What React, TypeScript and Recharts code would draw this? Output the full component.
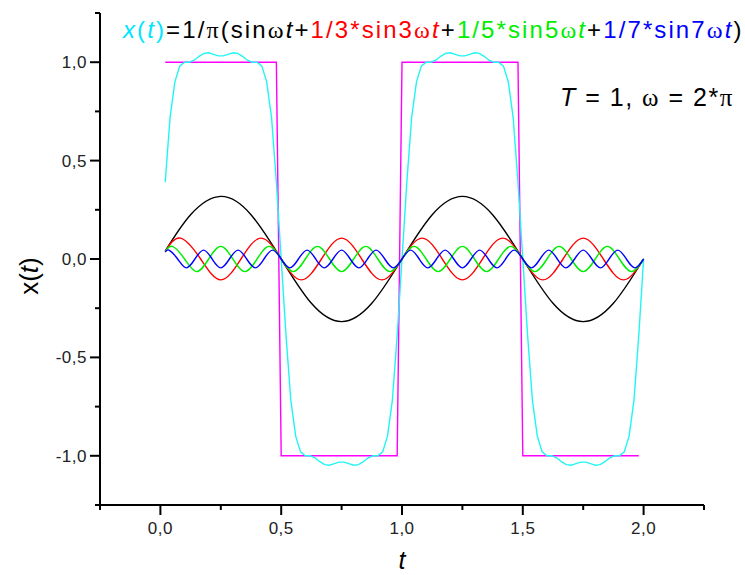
import React from "react";
import { LineChart, Line, XAxis, YAxis } from "recharts";

// fundamental 1/π·sinωt
const blackT = [0.02, 0.125, 0.25, 0.375, 0.5, 0.625, 0.75, 0.875, 1.0, 1.125, 1.25, 1.375, 1.5, 1.625, 1.75, 1.875, 2.0];
const blackV = [0.04, 0.225, 0.318, 0.225, 0, -0.225, -0.318, -0.225, 0, 0.225, 0.318, 0.225, 0, -0.225, -0.318, -0.225, 0];

// 3rd harmonic
const redT = [
  0.02, 0.0833, 0.1667, 0.25, 0.3333, 0.4167, 0.5, 0.5833, 0.6667, 0.75, 0.8333, 0.9167, 1.0,
  1.0833, 1.1667, 1.25, 1.3333, 1.4167, 1.5, 1.5833, 1.6667, 1.75, 1.8333, 1.9167, 2.0,
];
const redV = [
  0.039, 0.106, 0, -0.106, 0, 0.106, 0, -0.106, 0, 0.106, 0, -0.106, 0,
  0.106, 0, -0.106, 0, 0.106, 0, -0.106, 0, 0.106, 0, -0.106, 0,
];

// 5th harmonic
const greenT = [
  0.02, 0.05, 0.1, 0.15, 0.2, 0.25, 0.3, 0.35, 0.4, 0.45, 0.5, 0.55, 0.6, 0.65, 0.7, 0.75, 0.8, 0.85, 0.9, 0.95, 1.0,
  1.05, 1.1, 1.15, 1.2, 1.25, 1.3, 1.35, 1.4, 1.45, 1.5, 1.55, 1.6, 1.65, 1.7, 1.75, 1.8, 1.85, 1.9, 1.95, 2.0,
];
const greenV = [
  0.037, 0.064, 0, -0.064, 0, 0.064, 0, -0.064, 0, 0.064, 0, -0.064, 0, 0.064, 0, -0.064, 0, 0.064, 0, -0.064, 0,
  0.064, 0, -0.064, 0, 0.064, 0, -0.064, 0, 0.064, 0, -0.064, 0, 0.064, 0, -0.064, 0, 0.064, 0, -0.064, 0,
];

// 7th harmonic
const blueT = [
  0.02, 0.0357, 0.0714, 0.1071, 0.1429, 0.1786, 0.2143, 0.25, 0.2857, 0.3214, 0.3571, 0.3929, 0.4286, 0.4643, 0.5,
  0.5357, 0.5714, 0.6071, 0.6429, 0.6786, 0.7143, 0.75, 0.7857, 0.8214, 0.8571, 0.8929, 0.9286, 0.9643, 1.0,
  1.0357, 1.0714, 1.1071, 1.1429, 1.1786, 1.2143, 1.25, 1.2857, 1.3214, 1.3571, 1.3929, 1.4286, 1.4643, 1.5,
  1.5357, 1.5714, 1.6071, 1.6429, 1.6786, 1.7143, 1.75, 1.7857, 1.8214, 1.8571, 1.8929, 1.9286, 1.9643, 2.0,
];
const blueV = [
  0.035, 0.045, 0, -0.045, 0, 0.045, 0, -0.045, 0, 0.045, 0, -0.045, 0, 0.045, 0,
  -0.045, 0, 0.045, 0, -0.045, 0, 0.045, 0, -0.045, 0, 0.045, 0, -0.045, 0,
  0.045, 0, -0.045, 0, 0.045, 0, -0.045, 0, 0.045, 0, -0.045, 0, 0.045, 0,
  -0.045, 0, 0.045, 0, -0.045, 0, 0.045, 0, -0.045, 0, 0.045, 0, -0.045, 0,
];

// sum, sampled every 0.02
const cyanT = [
  0.02, 0.04, 0.06, 0.08, 0.1, 0.12, 0.14, 0.16, 0.18, 0.2, 0.22, 0.24, 0.26, 0.28, 0.3, 0.32, 0.34, 0.36, 0.38, 0.4, 0.42, 0.44, 0.46, 0.48, 0.5,
  0.52, 0.54, 0.56, 0.58, 0.6, 0.62, 0.64, 0.66, 0.68, 0.7, 0.72, 0.74, 0.76, 0.78, 0.8, 0.82, 0.84, 0.86, 0.88, 0.9, 0.92, 0.94, 0.96, 0.98, 1.0,
  1.02, 1.04, 1.06, 1.08, 1.1, 1.12, 1.14, 1.16, 1.18, 1.2, 1.22, 1.24, 1.26, 1.28, 1.3, 1.32, 1.34, 1.36, 1.38, 1.4, 1.42, 1.44, 1.46, 1.48, 1.5,
  1.52, 1.54, 1.56, 1.58, 1.6, 1.62, 1.64, 1.66, 1.68, 1.7, 1.72, 1.74, 1.76, 1.78, 1.8, 1.82, 1.84, 1.86, 1.88, 1.9, 1.92, 1.94, 1.96, 1.98, 2.0,
];
const cyanV = [
  0.39, 0.72, 0.9, 0.98, 1.0, 1.0, 1.01, 1.03, 1.045, 1.048, 1.04, 1.032, 1.032, 1.04, 1.048, 1.045, 1.03, 1.01, 1.0, 1.0, 0.98, 0.9, 0.72, 0.39, 0,
  -0.39, -0.72, -0.9, -0.98, -1.0, -1.0, -1.01, -1.03, -1.045, -1.048, -1.04, -1.032, -1.032, -1.04, -1.048, -1.045, -1.03, -1.01, -1.0, -1.0, -0.98, -0.9, -0.72, -0.39, 0,
  0.39, 0.72, 0.9, 0.98, 1.0, 1.0, 1.01, 1.03, 1.045, 1.048, 1.04, 1.032, 1.032, 1.04, 1.048, 1.045, 1.03, 1.01, 1.0, 1.0, 0.98, 0.9, 0.72, 0.39, 0,
  -0.39, -0.72, -0.9, -0.98, -1.0, -1.0, -1.01, -1.03, -1.045, -1.048, -1.04, -1.032, -1.032, -1.04, -1.048, -1.045, -1.03, -1.01, -1.0, -1.0, -0.98, -0.9, -0.72, -0.39, 0,
];

// square wave
const squareT = [0.02, 0.48, 0.5, 0.98, 1.0, 1.48, 1.5, 1.98];
const squareV = [1, 1, -1, -1, 1, 1, -1, -1];

const xTicks = [-0.25, 0, 0.25, 0.5, 0.75, 1.0, 1.25, 1.5, 1.75, 2.0, 2.25];
const yTicks = [-1.25, -1.0, -0.75, -0.5, -0.25, 0, 0.25, 0.5, 0.75, 1.0, 1.25];

const toRows = (ts: number[], vs: number[]) => ts.map((t, i) => ({ t, v: vs[i] }));

const FONT = "'Liberation Sans', Arial, sans-serif";
const SERIF = "'Liberation Serif', 'Times New Roman', serif";

const isMajor = (v: number) => Math.abs(v * 2 - Math.round(v * 2)) < 1e-6;
const fmt = (v: number) => v.toFixed(1).replace(".", ",");

const XTick = (props: any) => {
  const { x, y, payload } = props;
  const major = isMajor(payload.value);
  return (
    <g>
      <line x1={x} x2={x} y1={y} y2={y + (major ? 10 : 5)} stroke="#000" strokeWidth={2} />
      {major && (
        <text x={x} y={y + 29} textAnchor="middle" fontFamily={FONT} fontSize={17} letterSpacing={0.5} fill="#222">
          {fmt(payload.value)}
        </text>
      )}
    </g>
  );
};

const YTick = (props: any) => {
  const { x, y, payload } = props;
  const major = isMajor(payload.value);
  return (
    <g>
      <line x1={x - (major ? 10 : 5)} x2={x} y1={y} y2={y} stroke="#000" strokeWidth={2} />
      {major && (
        <text x={x - 13} y={y + 6} textAnchor="end" fontFamily={FONT} fontSize={17} letterSpacing={0.5} fill="#222">
          {fmt(payload.value)}
        </text>
      )}
    </g>
  );
};

// "sinNωt" piece of the title
const Term = ({ pre, color }: { pre: string; color: string }) => (
  <>
    <tspan fill={color}>{pre}</tspan>
    <tspan fill={color} fontFamily={SERIF}>ω</tspan>
    <tspan fill={color} fontStyle="italic">t</tspan>
  </>
);

export default function App() {
  const line = (ts: number[], vs: number[], color: string, type: any) => (
    <Line
      data={toRows(ts, vs)}
      dataKey="v"
      type={type}
      stroke={color}
      strokeWidth={1.4}
      dot={false}
      activeDot={false}
      isAnimationActive={false}
    />
  );

  return (
    <div style={{ position: "absolute", left: 0, top: 0, width: 745, height: 575, background: "#fff" }}>
      <LineChart width={745} height={575} margin={{ top: 13, right: 41, bottom: 0, left: 0 }}>
        <XAxis
          type="number"
          dataKey="t"
          domain={[-0.25, 2.25]}
          ticks={xTicks}
          interval={0}
          height={70}
          tickSize={0}
          tickMargin={0}
          tickLine={false}
          axisLine={{ stroke: "#000", strokeWidth: 2 }}
          tick={<XTick />}
          allowDataOverflow
        />
        <YAxis
          type="number"
          domain={[-1.25, 1.25]}
          ticks={yTicks}
          interval={0}
          width={100}
          tickSize={0}
          tickMargin={0}
          tickLine={false}
          axisLine={{ stroke: "#000", strokeWidth: 2 }}
          tick={<YTick />}
          allowDataOverflow
        />
        {line(squareT, squareV, "#ff00ff", "linear")}
        {line(cyanT, cyanV, "#22f4f4", "linear")}
        {line(blackT, blackV, "#000000", "natural")}
        {line(redT, redV, "#ff0000", "natural")}
        {line(greenT, greenV, "#00ee00", "natural")}
        {line(blueT, blueV, "#0000ff", "natural")}
      </LineChart>

      <svg width={745} height={575} style={{ position: "absolute", left: 0, top: 0, pointerEvents: "none" }}>
        <text x={123} y={38} fontFamily={FONT} fontSize={24} letterSpacing={2.1} fill="#000">
          <tspan fill="#00e5ff" fontStyle="italic">x</tspan>
          <tspan fill="#00e5ff">(</tspan>
          <tspan fill="#00e5ff" fontStyle="italic">t</tspan>
          <tspan fill="#00e5ff">)</tspan>
          <tspan>=1/</tspan>
          <tspan fontFamily={SERIF}>π</tspan>
          <tspan>(</tspan>
          <Term pre="sin" color="#000" />
          <tspan>+</tspan>
          <Term pre="1/3*sin3" color="#ff0000" />
          <tspan>+</tspan>
          <Term pre="1/5*sin5" color="#00ee00" />
          <tspan>+</tspan>
          <Term pre="1/7*sin7" color="#0000ff" />
          <tspan>)</tspan>
        </text>
        <text x={560} y={106} fontFamily={FONT} fontSize={25} letterSpacing={1.5} fill="#000">
          <tspan fontStyle="italic">T</tspan>
          <tspan> = 1, </tspan>
          <tspan fontFamily={SERIF}>ω</tspan>
          <tspan> = 2*</tspan>
          <tspan fontFamily={SERIF}>π</tspan>
        </text>
        <text
          x={38}
          y={276}
          transform="rotate(-90 38 276)"
          textAnchor="middle"
          fontFamily={FONT}
          fontSize={26}
          fill="#000"
        >
          x(<tspan fontStyle="italic">t</tspan>)
        </text>
        <text x={402} y={569} textAnchor="middle" fontFamily={FONT} fontSize={25} fontStyle="italic" fill="#000">
          t
        </text>
      </svg>
    </div>
  );
}
